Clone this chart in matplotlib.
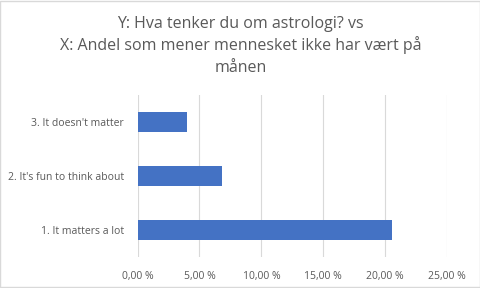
import matplotlib
matplotlib.use('Agg')
import matplotlib.pyplot as plt
from matplotlib.patches import Rectangle
from matplotlib.ticker import FuncFormatter

# ── Data ────────────────────────────────────────────────────────────────────
categories = ['1. It matters a lot', "2. It's fun to think about", "3. It doesn't matter"]
shares = [20.55, 6.8, 4.0]   # percent
x_ticks = [0, 5, 10, 15, 20, 25]

title_lines = ['Y: Hva tenker du om astrologi? vs',
               'X: Andel som mener mennesket ikke har vært på',
               'månen']

BAR_COLOR = '#4472C4'
TEXT_COLOR = '#595959'
GRID_COLOR = '#D9D9D9'

plt.rcParams['font.family'] = ['Open Sans', 'DejaVu Sans']

# ── Plotting ────────────────────────────────────────────────────────────────
fig = plt.figure(figsize=(4.81, 2.88), dpi=100, facecolor='white')
ax = fig.add_axes([0.2859, 0.1076, 0.6435, 0.5625])

ax.barh(range(len(categories)), shares, height=0.37, color=BAR_COLOR, zorder=3)

ax.set_xlim(0, 25)
ax.set_ylim(-0.5, len(categories) - 0.5)
ax.set_xticks(x_ticks)
ax.xaxis.set_major_formatter(FuncFormatter(lambda v, p: f'{v:.2f} %'.replace('.', ',')))
ax.set_yticks(range(len(categories)))
ax.set_yticklabels(categories)

ax.grid(axis='x', color=GRID_COLOR, linewidth=0.8, zorder=0)
ax.tick_params(axis='both', length=0, labelsize=7.5, colors=TEXT_COLOR)
ax.tick_params(axis='x', pad=10)
ax.tick_params(axis='y', pad=10)
for s in ax.spines.values():
    s.set_visible(False)

# title, one line at a time so the spacing stays even
for i, line in enumerate(title_lines):
    fig.text(0.5, 1 - (28.5 + 22 * i) / 288, line, ha='center', va='baseline',
             fontsize=11.5, color=TEXT_COLOR)

# light frame around the chart
fig.patches.append(Rectangle((0.001, 0.002), 0.997, 0.995, transform=fig.transFigure,
                             fill=False, edgecolor=GRID_COLOR, linewidth=1))

fig.savefig('out.png', dpi=100)
